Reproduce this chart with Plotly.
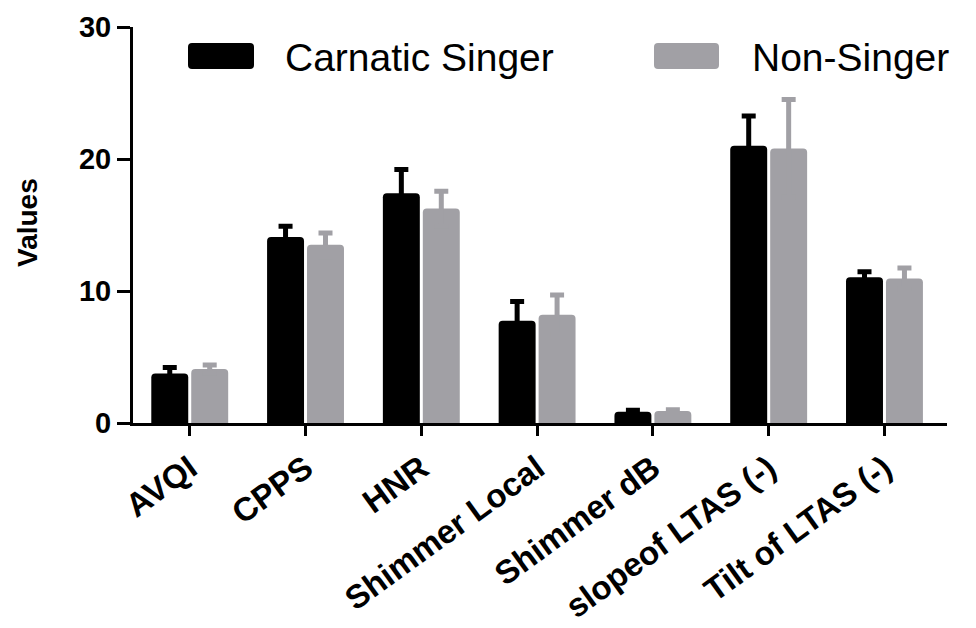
import plotly.graph_objects as go

# Voice measures, group means and standard deviations
categories = ["AVQI", "CPPS", "HNR", "Shimmer Local", "Shimmer dB",
              "slopeof LTAS (-)", "Tilt of LTAS (-)"]
carnatic_mean = [3.75, 14.1, 17.4, 7.75, 0.85, 21.0, 11.05]
carnatic_sd = [0.45, 0.8, 1.8, 1.45, 0.12, 2.25, 0.4]
nonsinger_mean = [4.1, 13.5, 16.25, 8.2, 0.9, 20.8, 10.95]
nonsinger_sd = [0.3, 0.9, 1.3, 1.5, 0.1, 3.7, 0.8]
series_names = ["Carnatic Singer", "Non-Singer"]
y_ticks = [0, 10, 20, 30]

BLACK = "#000000"
GREY = "#A1A0A5"
FONT = "Liberation Sans, Arial, sans-serif"

W, H = 976, 628
M_L, M_R, M_T, M_B = 133, 29, 27, 205
PW, PH = W - M_L - M_R, H - M_T - M_B


def px_x(p):
    return (p - M_L) / PW


def px_y(p):
    return (H - M_B - p) / PH


def rounded_box(x0, y0, x1, y1, r=4):
    # x/y in pixels (y downward); returns an SVG path in paper coordinates
    a, b = px_x(x0), px_x(x1)
    top, bot = px_y(y0), px_y(y1)
    rx, ry = r / PW, r / PH
    return (f"M {a+rx},{bot} L {b-rx},{bot} Q {b},{bot} {b},{bot+ry} "
            f"L {b},{top-ry} Q {b},{top} {b-rx},{top} L {a+rx},{top} "
            f"Q {a},{top} {a},{top-ry} L {a},{bot+ry} Q {a},{bot} {a+rx},{bot} Z")


fig = go.Figure()
for name, mean, sd, col in [
    (series_names[0], carnatic_mean, carnatic_sd, BLACK),
    (series_names[1], nonsinger_mean, nonsinger_sd, GREY),
]:
    fig.add_trace(go.Bar(
        x=categories, y=mean, name=name,
        marker=dict(color=col, line=dict(width=0), cornerradius=4),
        error_y=dict(type="data", array=sd, symmetric=True,
                     color=col, thickness=5, width=7),
        showlegend=False,
    ))

shapes = [
    dict(type="path", xref="paper", yref="paper",
         path=rounded_box(188, 43, 254, 69), fillcolor=BLACK,
         line=dict(width=0)),
    dict(type="path", xref="paper", yref="paper",
         path=rounded_box(654, 43, 719, 69), fillcolor=GREY,
         line=dict(width=0)),
]

annotations = [
    dict(text=series_names[0], xref="paper", yref="paper",
         x=px_x(283), y=px_y(57), xanchor="left", yanchor="middle",
         showarrow=False, font=dict(family=FONT, size=39, color=BLACK)),
    dict(text=series_names[1], xref="paper", yref="paper",
         x=px_x(750), y=px_y(57), xanchor="left", yanchor="middle",
         showarrow=False, font=dict(family=FONT, size=39, color=BLACK)),
    dict(text="Values", xref="paper", yref="paper",
         x=px_x(27), y=px_y(223), xanchor="center", yanchor="middle",
         textangle=-90, showarrow=False,
         font=dict(family=FONT, size=28, color=BLACK, weight="bold")),
]

fig.update_layout(
    width=W, height=H,
    margin=dict(l=M_L, r=M_R, t=M_T, b=M_B, pad=0),
    paper_bgcolor="white", plot_bgcolor="white",
    barmode="group", bargap=0.31, bargroupgap=0.075,
    shapes=shapes, annotations=annotations,
    font=dict(family=FONT, color=BLACK),
    xaxis=dict(
        range=[-0.49, 6.54], showline=True, linewidth=3, linecolor=BLACK,
        ticks="outside", ticklen=10, tickwidth=3, tickcolor=BLACK,
        tickangle=-36, showgrid=False, zeroline=False, automargin=False,
        tickfont=dict(family=FONT, size=33, color=BLACK, weight="bold"),
    ),
    yaxis=dict(
        range=[0, 30], tickvals=y_ticks, showline=True, linewidth=3,
        linecolor=BLACK, ticks="outside", ticklen=13, tickwidth=3,
        tickcolor=BLACK, showgrid=False, zeroline=False, automargin=False,
        ticklabelstandoff=0,
        tickfont=dict(family=FONT, size=29, color=BLACK, weight="bold"),
    ),
)

fig.write_html("out.html")
